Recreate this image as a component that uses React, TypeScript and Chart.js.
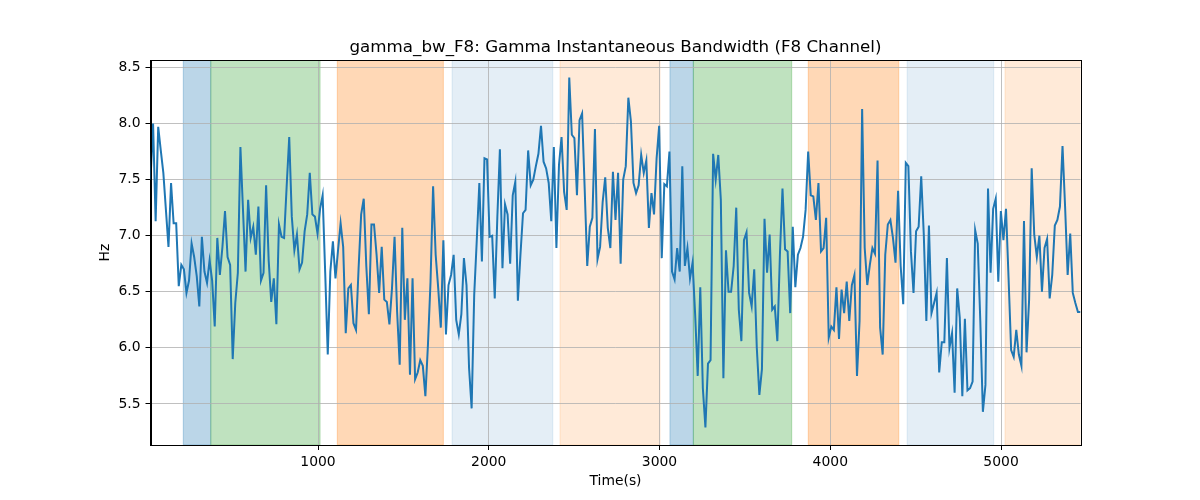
import { useEffect, useRef } from "react";
import { Chart, Plugin, registerables } from "chart.js";

// Register all Chart.js pieces we need
Chart.register(...registerables);

// Sampling grid of the recording (seconds)
const TIME_START = 19;
const TIME_STEP = 15.045;

// Gamma bandwidth readings (Hz), one per sample
const bandwidthHz = [
  7.5, 8.0, 7.13, 7.97, 7.76, 7.56, 7.23, 6.9, 7.47, 7.11, 7.11, 6.55, 6.74, 6.7, 6.49, 6.6,
  6.93, 6.81, 6.64, 6.37, 6.99, 6.68, 6.58, 6.78, 6.6, 6.19, 6.98, 6.65, 6.9, 7.22, 6.81, 6.74,
  5.9, 6.4, 6.67, 7.79, 7.23, 6.68, 7.32, 6.98, 7.08, 6.83, 7.26, 6.6, 6.67, 7.45, 6.78, 6.41,
  6.62, 6.21, 7.1, 6.99, 6.98, 7.44, 7.88, 7.17, 6.87, 7.01, 6.7, 6.76, 7.04, 7.19, 7.56, 7.19,
  7.17, 7.02, 7.24, 7.36, 6.67, 5.94, 6.68, 6.95, 6.62, 6.87, 7.11, 6.9, 6.13, 6.53, 6.56, 6.22,
  6.16, 6.71, 7.19, 7.33, 6.73, 6.3, 7.1, 7.1, 6.83, 6.49, 6.9, 6.43, 6.41, 6.21, 6.53, 6.99,
  6.32, 5.85, 7.07, 6.25, 6.62, 5.76, 6.62, 5.72, 5.78, 5.89, 5.84, 5.57, 6.03, 6.59, 7.44, 6.83,
  6.53, 6.18, 6.96, 6.12, 6.56, 6.65, 6.83, 6.25, 6.12, 6.3, 6.8, 6.56, 5.82, 5.46, 6.47, 6.96,
  7.47, 6.77, 7.69, 7.68, 6.99, 7.0, 6.44, 7.16, 7.77, 6.71, 7.28, 7.19, 6.75, 7.36, 7.48, 6.42,
  6.83, 7.2, 7.23, 7.76, 7.45, 7.5, 7.62, 7.73, 7.98, 7.66, 7.6, 7.47, 7.13, 7.79, 6.89, 7.63,
  7.88, 7.39, 7.23, 8.41, 7.9, 7.87, 7.36, 8.03, 8.09, 7.42, 6.73, 7.08, 7.16, 7.95, 6.79, 6.9,
  7.3, 7.52, 7.07, 6.89, 7.57, 7.14, 7.56, 6.75, 7.5, 7.62, 8.23, 8.02, 7.47, 7.38, 7.45, 7.72,
  7.56, 7.67, 7.07, 7.38, 7.19, 7.69, 7.98, 6.8, 7.46, 7.44, 7.75, 6.68, 6.61, 6.89, 6.68, 7.62,
  6.73, 6.89, 6.62, 6.76, 6.3, 5.75, 6.54, 5.64, 5.29, 5.86, 5.89, 7.73, 7.5, 7.72, 7.32, 5.73,
  6.87, 6.5, 6.5, 6.73, 7.25, 6.34, 6.06, 6.96, 7.03, 6.49, 6.37, 6.7, 6.0, 5.58, 5.81, 7.15,
  6.67, 7.01, 6.34, 6.37, 6.06, 6.83, 7.42, 6.88, 6.86, 6.31, 7.08, 6.54, 6.83, 6.89, 6.99, 7.23,
  7.75, 7.36, 7.35, 7.14, 7.47, 6.86, 6.89, 7.16, 6.09, 6.19, 6.16, 6.54, 6.08, 6.52, 6.31, 6.59,
  6.24, 6.56, 6.65, 5.75, 6.24, 8.13, 6.89, 6.56, 6.74, 6.89, 6.84, 7.67, 6.18, 5.94, 6.83, 7.1,
  7.14, 6.98, 6.76, 7.4, 6.73, 6.39, 7.65, 7.62, 6.86, 6.49, 7.04, 7.08, 7.53, 7.01, 6.24, 7.09,
  6.31, 6.4, 6.49, 5.78, 6.05, 6.05, 6.8, 6.0, 6.13, 5.6, 6.53, 6.27, 5.57, 6.26, 5.62, 5.64,
  5.7, 7.05, 6.93, 6.24, 5.43, 5.67, 7.42, 6.67, 7.24, 7.33, 6.59, 7.22, 6.96, 7.24, 6.62, 5.98,
  5.92, 6.16, 5.94, 5.84, 7.13, 5.96, 6.43, 7.6, 7.01, 6.81, 7.0, 6.5, 6.89, 6.97, 6.44, 6.65,
  7.09, 7.14, 7.26, 7.8, 7.26, 6.65, 7.02, 6.49, 6.4, 6.32, 6.32,
];

const timeSec = bandwidthHz.map((_, i) => TIME_START + i * TIME_STEP);

// Shaded segments (seconds) and their kind
const spanStart = [211, 372, 1113, 1785, 2417, 3061, 3198, 3871, 4450, 5023];
const spanEnd = [372, 1012, 1734, 2375, 3003, 3198, 3774, 4401, 4957, 5470];
const spanKind = [
  "blue", "green", "orange", "paleBlue", "paleOrange",
  "blue", "green", "orange", "paleBlue", "paleOrange",
];

const xTicks = [1000, 2000, 3000, 4000, 5000];
const yTicks = [5.5, 6.0, 6.5, 7.0, 7.5, 8.0, 8.5];

const spanColors: Record<string, string> = {
  blue: "rgba(31,119,180,0.3)",
  green: "rgba(44,160,44,0.3)",
  orange: "rgba(255,127,14,0.3)",
  paleBlue: "rgba(31,119,180,0.12)",
  paleOrange: "rgba(255,127,14,0.16)",
};

const FONT = "'DejaVu Sans', sans-serif";

// Background bands behind the grid, plus a full frame on top
const spanPlugin: Plugin = {
  id: "spans",
  beforeDraw(chart) {
    const { ctx, chartArea, scales } = chart;
    const x = scales.x;
    ctx.save();
    ctx.beginPath();
    ctx.rect(chartArea.left, chartArea.top, chartArea.right - chartArea.left, chartArea.bottom - chartArea.top);
    ctx.clip();
    spanStart.forEach((s, i) => {
      const x0 = x.getPixelForValue(s);
      const x1 = x.getPixelForValue(spanEnd[i]);
      ctx.fillStyle = spanColors[spanKind[i]];
      ctx.fillRect(x0, chartArea.top, x1 - x0, chartArea.bottom - chartArea.top);
      ctx.strokeStyle = spanColors[spanKind[i]];
      ctx.lineWidth = 1;
      ctx.strokeRect(x0, chartArea.top, x1 - x0, chartArea.bottom - chartArea.top);
    });
    ctx.restore();
  },
  afterDatasetsDraw(chart) {
    const { ctx, chartArea } = chart;
    ctx.save();
    ctx.strokeStyle = "#000";
    ctx.lineWidth = 1;
    ctx.strokeRect(
      Math.round(chartArea.left) + 0.5,
      Math.round(chartArea.top) + 0.5,
      Math.round(chartArea.right - chartArea.left),
      Math.round(chartArea.bottom - chartArea.top)
    );
    ctx.restore();
  },
};

const App = () => {
  const canvasRef = useRef<HTMLCanvasElement | null>(null);
  const chartRef = useRef<Chart | null>(null);

  useEffect(() => {
    document.body.style.margin = "0";
    if (!canvasRef.current) return;
    if (chartRef.current) chartRef.current.destroy();

    chartRef.current = new Chart(canvasRef.current, {
      type: "line",
      data: {
        datasets: [
          {
            data: bandwidthHz.map((v, i) => ({ x: timeSec[i], y: v })),
            borderColor: "#1f77b4",
            borderWidth: 2,
            pointRadius: 0,
            tension: 0,
            fill: false,
          },
        ],
      },
      options: {
        animation: false,
        responsive: false,
        devicePixelRatio: 1,
        // left padding keeps the title centred over the plot area
        layout: { padding: { left: 31, right: 0, top: 0, bottom: 0 } },
        plugins: {
          legend: { display: false },
          tooltip: { enabled: false },
          title: {
            display: true,
            text: "gamma_bw_F8: Gamma Instantaneous Bandwidth (F8 Channel)",
            color: "#000",
            font: { family: FONT, size: 16.7, weight: "normal" },
            padding: { top: 38, bottom: 2 },
          },
        },
        scales: {
          x: {
            type: "linear",
            min: timeSec[0],
            max: timeSec[timeSec.length - 1],
            afterBuildTicks: (scale) => {
              scale.ticks = xTicks.map((v) => ({ value: v }));
            },
            afterFit: (scale) => {
              scale.height = 55;
            },
            ticks: {
              color: "#000",
              font: { family: FONT, size: 13.9 },
              padding: 4,
              maxRotation: 0,
              callback: (v) => String(v),
            },
            grid: { color: "#b0b0b0", lineWidth: 0.8, tickLength: 5, tickColor: "#000", tickWidth: 1 },
            border: { color: "#000", width: 1 },
            title: {
              display: true,
              text: "Time(s)",
              color: "#000",
              font: { family: FONT, size: 13.9 },
              padding: { top: 0, bottom: 10 },
            },
          },
          y: {
            type: "linear",
            min: 5.134,
            max: 8.566,
            afterBuildTicks: (scale) => {
              scale.ticks = yTicks.map((v) => ({ value: v }));
            },
            afterFit: (scale) => {
              scale.width = 119.5;
            },
            ticks: {
              color: "#000",
              font: { family: FONT, size: 13.9 },
              padding: 5,
              callback: (v) => Number(v).toFixed(1),
            },
            grid: { color: "#b0b0b0", lineWidth: 0.8, tickLength: 5, tickColor: "#000", tickWidth: 1 },
            border: { color: "#000", width: 1 },
            title: {
              display: true,
              text: "Hz",
              color: "#000",
              font: { family: FONT, size: 13.9 },
              padding: { top: 66, bottom: 0 },
            },
          },
          // empty right-hand box to reserve the margin after the plot
          spacer: {
            type: "linear",
            position: "right",
            display: true,
            grid: { display: false, drawTicks: false },
            ticks: { display: false },
            border: { display: false },
            afterFit: (scale) => {
              scale.width = 119.5;
            },
          },
        },
      },
      plugins: [spanPlugin],
    });

    return () => {
      if (chartRef.current) {
        chartRef.current.destroy();
        chartRef.current = null;
      }
    };
  }, []);

  return (
    <div style={{ width: 1200, height: 500 }}>
      <canvas ref={canvasRef} width={1200} height={500} />
    </div>
  );
};

export default App;
